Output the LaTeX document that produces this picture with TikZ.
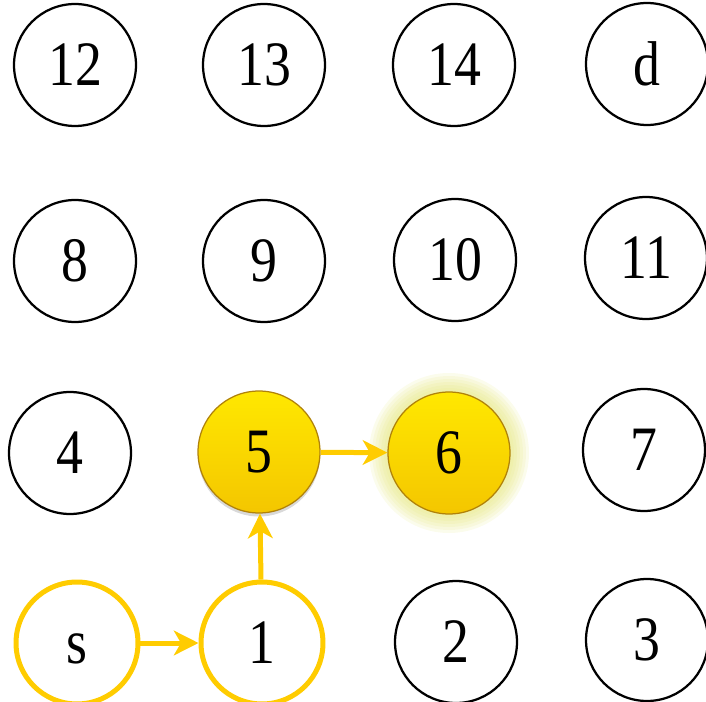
\documentclass[tikz,border=0pt]{standalone}
\usepackage{fontspec}
\setmainfont{Liberation Serif}
\usepackage{graphicx}
\usetikzlibrary{arrows.meta,shadows}
\definecolor{pathyellow}{RGB}{255,204,0}
\definecolor{balltop}{RGB}{255,232,0}
\definecolor{ballbottom}{RGB}{244,198,0}
\definecolor{ballrim}{RGB}{176,130,10}
\definecolor{glowyellow}{RGB}{226,228,110}
\tikzset{
  cell/.style={circle, draw, line width=0.045cm, minimum size=2.44cm, inner sep=0pt,
    font=\fontsize{36}{40}\selectfont},
  visited/.style={cell, draw=pathyellow, line width=0.1cm, fill=white},
  ball/.style={cell, draw=ballrim, line width=0.025cm, top color=balltop, bottom color=ballbottom},
  walk/.style={-{Stealth[length=14pt,width=14pt,inset=4pt]}, draw=pathyellow, line width=0.1cm},
}
\newcommand{\lbl}[1]{\scalebox{0.85}[1]{\vphantom{0}#1}}
\begin{document}
\begin{tikzpicture}[x=0.02cm,y=-0.02cm]
  \useasboundingbox (0,0) rectangle (706,702);

  % glow round the goal of the walk
  \foreach \r in {80,77,74,71,68,65,62}
    \fill[glowyellow, opacity=0.13] (449,453) circle[radius=\r*0.02cm];

  % top row
  \node[cell] (n12) at (75,65) {\lbl{12}};
  \node[cell] (n13) at (264,65) {\lbl{13}};
  \node[cell] (n14) at (454,65) {\lbl{14}};
  \node[cell] (nd) at (647,64) {\lbl{d}};

  % second row
  \node[cell] (n8) at (75,261) {\lbl{8}};
  \node[cell] (n9) at (264,261) {\lbl{9}};
  \node[cell] (n10) at (455,260) {\lbl{10}};
  \node[cell] (n11) at (646,258) {\lbl{11}};

  % third row
  \node[cell] (n4) at (70,453) {\lbl{4}};
  \node[ball, drop shadow={opacity=0.3, shadow xshift=0pt, shadow yshift=-2pt}] (n5) at (259,452) {\lbl{5}};
  \node[ball] (n6) at (449,453) {\lbl{6}};
  \node[cell] (n7) at (644,450) {\lbl{7}};

  % bottom row
  \node[visited] (ns) at (77,643) {\lbl{s}};
  \node[visited] (n1) at (262,643) {\lbl{1}};
  \node[cell] (n2) at (456,642) {\lbl{2}};
  \node[cell] (n3) at (647,640) {\lbl{3}};

  % walk from s
  \draw[walk] (ns) -- (n1);
  \draw[walk] (n1) -- (n5);
  \draw[walk] (n5) -- (n6);
\end{tikzpicture}
\end{document}
